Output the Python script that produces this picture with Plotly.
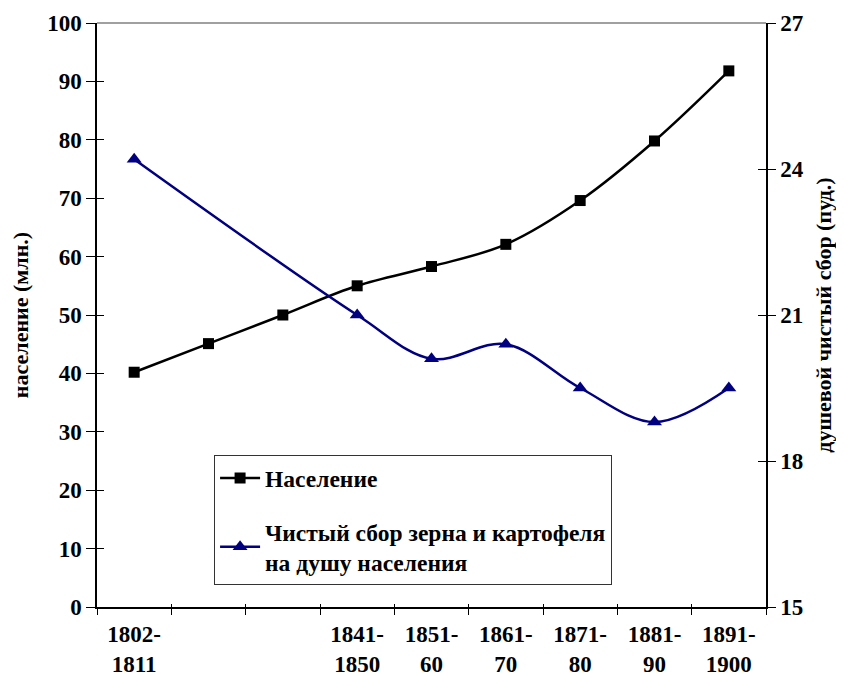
import plotly.graph_objects as go

periods = ["1802-<br>1811", " ", "  ", "1841-<br>1850", "1851-<br>60", "1861-<br>70",
           "1871-<br>80", "1881-<br>90", "1891-<br>1900"]
population = [40.2, 45.1, 50.0, 55.0, 58.3, 62.1, 69.6, 79.8, 91.8]
harvest_per_capita = [24.2, None, None, 21.0, 20.1, 20.4, 19.5, 18.8, 19.5]

left_ticks = list(range(0, 101, 10))
right_ticks = [15, 18, 21, 24, 27]

FONT = "Liberation Serif, Times New Roman, serif"
NAVY = "#000080"

fig = go.Figure()

fig.add_trace(go.Scatter(
    x=periods, y=population, name="Население",
    mode="lines+markers", line=dict(color="black", width=2.5, shape="spline"),
    marker=dict(symbol="square", size=11, color="black"),
    legendgroup="a", xaxis="x", yaxis="y"))

fig.add_trace(go.Scatter(
    x=periods, y=harvest_per_capita,
    name="Чистый сбор зерна и картофеля<br>на душу населения",
    mode="lines+markers", connectgaps=True,
    line=dict(color=NAVY, width=2.5, shape="spline"),
    marker=dict(symbol="triangle-up", size=13, color=NAVY),
    legendgroup="b", xaxis="x", yaxis="y2"))

# invisible helper traces for crossing tick marks
fig.add_trace(go.Scatter(x=periods, y=population, opacity=0, showlegend=False,
                         hoverinfo="skip", mode="lines", xaxis="x3", yaxis="y3"))
fig.add_trace(go.Scatter(x=periods, y=harvest_per_capita, opacity=0, showlegend=False,
                         hoverinfo="skip", mode="lines", xaxis="x3", yaxis="y4"))

tickfont = dict(family=FONT, size=23, color="black", weight="bold")
titlefont = dict(family=FONT, size=22, color="black", weight="bold")

fig.update_layout(
    width=836, height=670,
    margin=dict(l=89, r=78, t=15, b=71, autoexpand=False),
    paper_bgcolor="white", plot_bgcolor="white",
    font=dict(family=FONT, size=23, color="black", weight="bold"),
    showlegend=True,
    legend=dict(x=0.175, y=0.26, xanchor="left", yanchor="top",
                bgcolor="white", bordercolor="#333333", borderwidth=1,
                font=dict(family=FONT, size=23.5, color="black", weight="bold"),
                traceorder="grouped", tracegroupgap=20, itemwidth=40),
    xaxis=dict(type="category", categoryarray=periods, categoryorder="array",
               range=[-0.5, 8.5], tickson="boundaries", ticks="outside", ticklen=6,
               tickcolor="black", tickwidth=1, showline=True, linecolor="black",
               linewidth=1.5, showgrid=False, zeroline=False, tickfont=tickfont,
               ticklabelstandoff=6, automargin=False),
    xaxis3=dict(type="category", categoryarray=periods, categoryorder="array",
                overlaying="x", anchor="y", range=[-0.5, 8.5], tickson="boundaries",
                ticks="inside", ticklen=3, tickcolor="black", showticklabels=False,
                showgrid=False, zeroline=False, showline=False, automargin=False),
    yaxis=dict(range=[0, 100], tickvals=left_ticks, ticks="outside", ticklen=9,
               tickcolor="black", showline=True, linecolor="black", linewidth=1.5,
               showgrid=False, zeroline=False, tickfont=tickfont, automargin=False,
               title=dict(text="население (млн.)", standoff=18, font=titlefont)),
    yaxis3=dict(range=[0, 100], tickvals=left_ticks, ticks="inside", ticklen=7,
                tickcolor="black", overlaying="y", anchor="x", side="left",
                showticklabels=False, showgrid=False, zeroline=False, showline=False,
                automargin=False),
    yaxis2=dict(range=[15, 27], tickvals=right_ticks, ticks="outside", ticklen=8,
                tickcolor="black", overlaying="y", side="right", anchor="x",
                showline=True, linecolor="black", linewidth=1.5, automargin=False,
                showgrid=False, zeroline=False, tickfont=tickfont,
                title=dict(text="душевой чистый сбор (пуд.)", standoff=13, font=titlefont)),
    yaxis4=dict(range=[15, 27], tickvals=right_ticks, ticks="inside", ticklen=8,
                tickcolor="black", overlaying="y", side="right", anchor="x",
                showticklabels=False, showgrid=False, zeroline=False, showline=False,
                automargin=False),
    shapes=[dict(type="line", xref="paper", yref="paper", x0=0, x1=1, y0=1, y1=1,
                 line=dict(color="#808080", width=1.5))],
)

fig.write_html("out.html")
